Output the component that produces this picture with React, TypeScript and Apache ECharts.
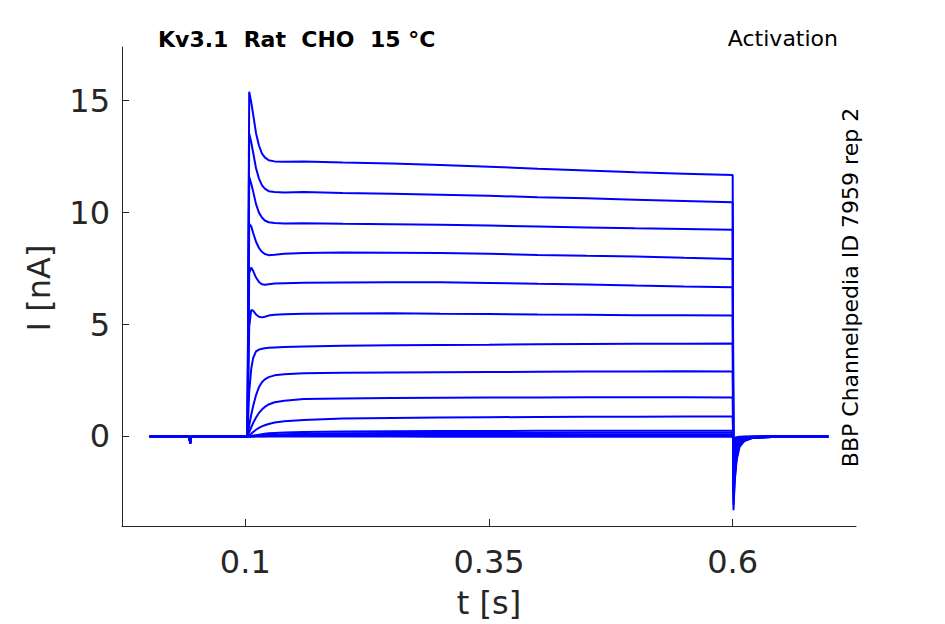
import React, { useEffect, useRef } from "react";
import * as echarts from "echarts";

// Sample times (s)
const times = [0.002, 0.0425, 0.0435, 0.0445, 0.1022, 0.104, 0.106, 0.108, 0.111, 0.114, 0.117, 0.12, 0.124, 0.13, 0.14, 0.16, 0.2, 0.25, 0.3, 0.35, 0.4, 0.45, 0.5, 0.55, 0.6, 0.6008, 0.602, 0.604, 0.607, 0.612, 0.62, 0.64, 0.698];

// Current traces (nA), one per voltage step
const trace1 = [0, 0, -0.3, 0, 0, 15.4, 14.95, 14.4, 13.55, 13.0, 12.65, 12.47, 12.34, 12.29, 12.27, 12.29, 12.24, 12.2, 12.13, 12.05, 11.96, 11.88, 11.8, 11.74, 11.68, -3.3, -2.05, -1.05, -0.46, -0.2, -0.07, -0.02, 0];
const trace2 = [0, 0, -0.3, 0, 0, 13.54, 13.16, 12.7, 11.98, 11.52, 11.23, 11.07, 10.96, 10.92, 10.9, 10.92, 10.88, 10.84, 10.8, 10.75, 10.69, 10.64, 10.58, 10.52, 10.46, -3.05, -1.9, -0.98, -0.43, -0.18, -0.07, -0.02, 0];
const trace3 = [0, 0, -0.3, 0, 0, 11.6, 11.3, 10.95, 10.38, 10.0, 9.78, 9.65, 9.57, 9.54, 9.52, 9.53, 9.5, 9.48, 9.46, 9.42, 9.38, 9.34, 9.3, 9.27, 9.24, -2.8, -1.74, -0.9, -0.39, -0.17, -0.06, -0.02, 0];
const trace4 = [0, 0, -0.3, 0, 0, 9.5, 9.4, 9.1, 8.7, 8.42, 8.25, 8.15, 8.1, 8.12, 8.16, 8.2, 8.22, 8.21, 8.2, 8.16, 8.11, 8.07, 8.04, 7.98, 7.93, -2.55, -1.58, -0.82, -0.36, -0.15, -0.06, -0.02, 0];
const trace5 = [0, 0, -0.3, 0, 0, 7.3, 7.55, 7.4, 7.1, 6.9, 6.8, 6.78, 6.8, 6.83, 6.85, 6.87, 6.88, 6.89, 6.89, 6.86, 6.82, 6.79, 6.74, 6.7, 6.67, -2.3, -1.43, -0.74, -0.32, -0.14, -0.05, -0.01, 0];
const trace6 = [0, 0, -0.3, 0, 0, 4.9, 5.65, 5.62, 5.45, 5.35, 5.32, 5.35, 5.4, 5.44, 5.46, 5.48, 5.49, 5.5, 5.48, 5.47, 5.45, 5.44, 5.42, 5.41, 5.4, -2.05, -1.27, -0.66, -0.29, -0.12, -0.05, -0.01, 0];
const trace7 = [0, 0, -0.3, 0, 0, 2.0, 3.0, 3.5, 3.8, 3.88, 3.92, 3.94, 3.96, 3.98, 4.0, 4.02, 4.05, 4.07, 4.09, 4.1, 4.12, 4.13, 4.14, 4.14, 4.15, -1.8, -1.12, -0.58, -0.25, -0.11, -0.04, -0.01, 0];
const trace8 = [0, 0, -0.3, 0, 0, 0.5, 0.95, 1.35, 1.85, 2.2, 2.42, 2.55, 2.65, 2.73, 2.78, 2.82, 2.85, 2.86, 2.87, 2.88, 2.89, 2.9, 2.9, 2.91, 2.9, -1.55, -0.96, -0.5, -0.22, -0.09, -0.03, -0.01, 0];
const trace9 = [0, 0, -0.3, 0, 0, 0.2, 0.4, 0.6, 0.85, 1.05, 1.2, 1.32, 1.43, 1.53, 1.6, 1.67, 1.7, 1.72, 1.73, 1.74, 1.74, 1.75, 1.75, 1.75, 1.74, -1.3, -0.81, -0.42, -0.18, -0.08, -0.03, -0.01, 0];
const trace10 = [0, 0, -0.3, 0, 0, 0.05, 0.12, 0.2, 0.3, 0.38, 0.45, 0.5, 0.56, 0.62, 0.68, 0.74, 0.8, 0.83, 0.85, 0.86, 0.87, 0.88, 0.88, 0.89, 0.89, -1.05, -0.65, -0.34, -0.15, -0.06, -0.02, -0.01, 0];
const trace11 = [0, 0, -0.3, 0, 0, 0.01, 0.02, 0.04, 0.06, 0.08, 0.1, 0.12, 0.14, 0.16, 0.18, 0.2, 0.22, 0.23, 0.24, 0.24, 0.25, 0.25, 0.25, 0.25, 0.25, -0.8, -0.5, -0.26, -0.11, -0.05, -0.02, 0, 0];
const trace12 = [0, 0, -0.3, 0, 0, 0.01, 0.01, 0.02, 0.03, 0.04, 0.05, 0.06, 0.07, 0.08, 0.1, 0.12, 0.14, 0.15, 0.16, 0.16, 0.16, 0.17, 0.17, 0.17, 0.17, -0.6, -0.37, -0.19, -0.08, -0.04, -0.01, 0, 0];
const trace13 = [0, 0, -0.3, 0, 0, 0, 0.01, 0.01, 0.02, 0.02, 0.03, 0.03, 0.04, 0.04, 0.05, 0.06, 0.07, 0.08, 0.08, 0.08, 0.09, 0.09, 0.09, 0.09, 0.09, -0.4, -0.25, -0.13, -0.06, -0.02, -0.01, 0, 0];
const trace14 = [0, 0, -0.3, 0, 0, 0, 0, 0, 0.01, 0.01, 0.01, 0.01, 0.02, 0.02, 0.02, 0.02, 0.03, 0.03, 0.03, 0.03, 0.03, 0.03, 0.03, 0.03, 0.03, -0.25, -0.16, -0.08, -0.04, -0.02, -0.01, 0, 0];
const trace15 = [0, 0, -0.3, 0, 0, 0, 0, 0, 0, 0, 0, 0, 0, 0, 0, 0, 0, 0, -0.01, -0.01, -0.01, -0.01, -0.01, -0.01, -0.01, -0.1, -0.06, -0.03, -0.01, 0, 0, 0, 0];

const traces = [trace1, trace2, trace3, trace4, trace5, trace6, trace7, trace8, trace9, trace10, trace11, trace12, trace13, trace14, trace15];

const xTicks = [0.1, 0.35, 0.6];
const yTicks = [0, 5, 10, 15];

const titleText = "Kv3.1  Rat  CHO  15 °C";
const protocolText = "Activation";
const sourceText = "BBP Channelpedia ID 7959 rep 2";
const xName = "t [s]";
const yName = "I [nA]";

const FONT = "'DejaVu Sans', 'Noto Sans', sans-serif";
const AXIS_COLOR = "#262626";

export default function App() {
  const ref = useRef<HTMLDivElement>(null);

  useEffect(() => {
    if (!ref.current) return;
    const chart = echarts.init(ref.current, null, { renderer: "svg" });

    const series = traces.map((tr, i) => ({
      name: "trace" + (i + 1),
      type: "line",
      data: times.map((t, k) => [t, tr[k]]),
      showSymbol: false,
      symbol: "none",
      silent: true,
      lineStyle: { color: "#0000ff", width: 2 },
      z: 2,
    }));

    chart.setOption({
      animation: false,
      backgroundColor: "#ffffff",
      grid: { left: 122, top: 47, right: 89, bottom: 98, containLabel: false },
      xAxis: {
        type: "value",
        min: -0.0265,
        max: 0.7265,
        axisLine: { show: true, onZero: false, lineStyle: { color: AXIS_COLOR, width: 1 } },
        axisTick: { show: true, inside: true, length: 7, customValues: xTicks, lineStyle: { color: AXIS_COLOR, width: 1 } },
        axisLabel: { show: true, customValues: xTicks, margin: 20, color: AXIS_COLOR, fontSize: 32, fontFamily: FONT },
        splitLine: { show: false },
      },
      yAxis: {
        type: "value",
        min: -4,
        max: 17.4,
        axisLine: { show: true, onZero: false, lineStyle: { color: AXIS_COLOR, width: 1 } },
        axisTick: { show: true, inside: true, length: 7, customValues: yTicks, lineStyle: { color: AXIS_COLOR, width: 1 } },
        axisLabel: { show: true, customValues: yTicks, margin: 12, color: AXIS_COLOR, fontSize: 32, fontFamily: FONT },
        splitLine: { show: false },
      },
      graphic: [
        {
          type: "text",
          x: 158,
          y: 39.5,
          style: { text: titleText, fill: "#000000", font: `bold 22px ${FONT}`, align: "left", verticalAlign: "middle", textAlign: "left", textVerticalAlign: "middle" },
        },
        {
          type: "text",
          x: 838,
          y: 38,
          style: { text: protocolText, fill: "#000000", font: `22px ${FONT}`, align: "right", verticalAlign: "middle", textAlign: "right", textVerticalAlign: "middle" },
        },
        {
          type: "text",
          x: 850,
          y: 287.5,
          rotation: Math.PI / 2,
          style: { text: sourceText, fill: "#000000", font: `22px ${FONT}`, align: "center", verticalAlign: "middle", textAlign: "center", textVerticalAlign: "middle" },
        },
        {
          type: "text",
          x: 489,
          y: 603,
          style: { text: xName, fill: AXIS_COLOR, font: `32px ${FONT}`, align: "center", verticalAlign: "middle", textAlign: "center", textVerticalAlign: "middle" },
        },
        {
          type: "text",
          x: 39,
          y: 288,
          rotation: Math.PI / 2,
          style: { text: yName, fill: AXIS_COLOR, font: `32px ${FONT}`, align: "center", verticalAlign: "middle", textAlign: "center", textVerticalAlign: "middle" },
        },
      ],
      series,
    });

    return () => chart.dispose();
  }, []);

  return (
    <div
      ref={ref}
      style={{ position: "fixed", left: 0, top: 0, width: 945, height: 624, background: "#ffffff" }}
    />
  );
}
